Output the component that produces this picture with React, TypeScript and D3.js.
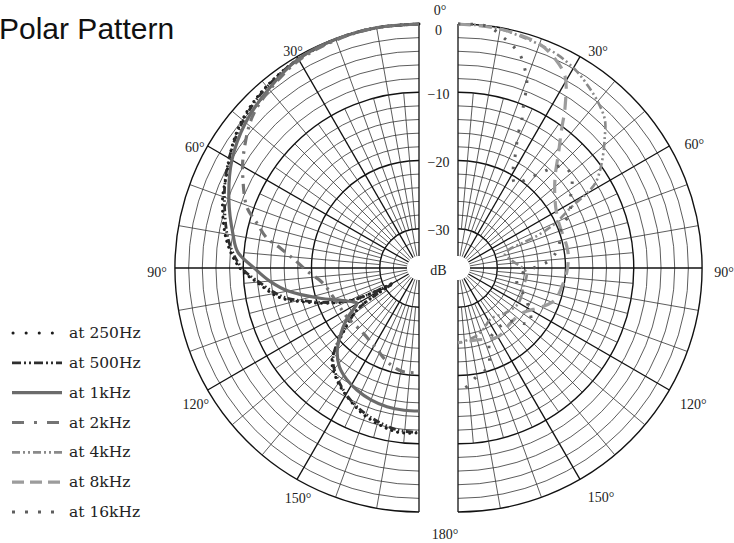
import React from 'react';
import * as d3 from 'd3';

// polar response, [angle in degrees from front, level in dB]
// left half of the plot
const at250Hz = [[0, 0], [10, 0], [20, -0.1], [30, -0.4], [40, -1.0], [48.7, -1.8], [56, -2.9], [64, -4.4], [71, -5.3], [82, -7.3], [90, -9.5], [95, -11.9], [102, -14.9], [107, -18.6], [111.5, -21.7], [116, -25], [118, -28], [120.5, -31.4], [122, -28], [124, -24.8], [130.5, -21.1], [136.6, -17.2], [143.8, -15.4], [152.4, -13.9], [160.8, -12.6], [172.4, -11.5], [180, -11.6]];
const at500Hz = [[0, 0], [10, 0], [20, -0.1], [30, -0.4], [40, -1.1], [48, -1.9], [56, -3.0], [64, -4.3], [71, -5.6], [82, -7.6], [90, -9.8], [95, -12.2], [102, -15.4], [107, -19], [111.5, -22], [116, -25.3], [118, -28], [120.5, -31], [122, -28], [124, -25], [130.5, -20.8], [136.6, -17.4], [143.8, -15.6], [152.4, -14.0], [160.8, -12.9], [172.4, -11.8], [180, -11.7]];
const at1kHz = [[0, 0], [10, 0], [20, -0.1], [30, -0.4], [40, -1.5], [50, -2.6], [60, -4.1], [70, -6.1], [80, -8.1], [85, -9.1], [90, -11.6], [95, -13.8], [100, -16.3], [107, -20.6], [112, -23.2], [117.3, -24.9], [119.5, -25.3], [125, -22.9], [131, -20.4], [136, -18.5], [141, -17.2], [147, -16.3], [153, -15.7], [160, -15.2], [167, -14.9], [174, -14.8], [180, -14.8]];
const at2kHz = [[0, 0], [10, 0], [20, -0.2], [30, -0.6], [40, -1.7], [47.9, -2.8], [57.8, -5.3], [62.7, -6.7], [70.5, -9.0], [74.5, -11.1], [78.8, -13.0], [81.8, -15.2], [86.3, -17.5], [92, -19.5], [98.9, -21.5], [113, -22.7], [124, -23], [139, -23.2], [153, -22.3], [161.7, -21.2], [171, -20.4], [180, -20.4]];
// right half of the plot
const at4kHz = [[0, 0], [8, -0.1], [15.4, -0.6], [24.3, -1.2], [30.6, -2.0], [35.7, -3.0], [40.4, -4.0], [44.8, -5.2], [48.2, -6.9], [53.9, -9.7], [58.3, -12.1], [60.1, -14.3], [61.7, -16.8], [65.3, -20.1], [67.7, -23], [68.8, -25.7], [70.3, -27.9], [74, -28.6], [82, -27.8], [94, -25.7], [106, -25.8], [120, -25.5], [134, -26.2], [147, -26.9], [158, -26], [166, -25.4], [180, -24.7]];
const at8kHz = [[0, 0], [10, -0.2], [19.7, -0.8], [25, -2.0], [29.2, -3.6], [33.6, -7.4], [36.9, -10.5], [41.2, -13.4], [46.7, -16.2], [55, -18.4], [64.4, -19.5], [78.9, -19.5], [84.1, -19.5], [92, -19.8], [100.2, -20.3], [108.3, -20.8], [114.8, -22.2], [125.4, -24.3], [136.8, -24.6], [149.6, -24.1], [166.7, -24.9], [180, -24.8]];
const at16kHz = [[0, 0], [7.2, -0.1], [10.7, -1.2], [13.5, -2.1], [16.2, -3.2], [18.7, -5.1], [20.4, -6.8], [22, -10.2], [23.3, -12.1], [24.1, -14.1], [27.1, -17.4], [29.4, -19.3], [33.9, -20.8], [38.9, -18.6], [46, -14.3], [51.2, -14.4], [58.7, -16.5], [63.9, -17.5], [68.3, -19.4], [78, -20.7], [85, -22.2], [100, -27], [116, -24.5], [127.4, -22.5], [137, -25], [155, -24.5], [163, -20.6], [169.4, -19.8], [175, -18.5], [180, -17.4]];

const legendLabels = ['at 250Hz', 'at 500Hz', 'at 1kHz', 'at 2kHz', 'at 4kHz', 'at 8kHz', 'at 16kHz'];
const dbTicks = [0, -10, -20, -30];
const angleTicks = [30, 60, 90, 120, 150];

const R = 244;
const cy = 268;
const leftX = 419, rightX = 458;
const rScale = d3.scaleLinear().domain([-34, 0]).range([12, R]);
const rad = (deg) => deg * Math.PI / 180;

// chart styles and legend sample styles
const styles = [
  { color: '#1c1c1c', width: 3, dash: '0.1 6', cap: 'round', legDash: '0.1 13', data: at250Hz, side: -1 },
  { color: '#2e2e2e', width: 2.8, dash: '7 2.5 1.5 2.5 1.5 2.5', cap: 'butt', legDash: '9 3 2 3 2 3', data: at500Hz, side: -1 },
  { color: '#6b6b6b', width: 3.2, dash: null, cap: 'butt', legDash: null, data: at1kHz, side: -1 },
  { color: '#747474', width: 3.2, dash: '10 6 2.5 6', cap: 'butt', legDash: '12 10 3 10', data: at2kHz, side: -1 },
  { color: '#8a8a8a', width: 2.6, dash: '8 3 2 3 2 3', cap: 'butt', legDash: '8 3 2 3 2 3', data: at4kHz, side: 1 },
  { color: '#9c9c9c', width: 3.2, dash: '13 8', cap: 'butt', legDash: '12 6', data: at8kHz, side: 1 },
  { color: '#5e5e5e', width: 3, dash: '2.5 10', cap: 'butt', legDash: '3 10', data: at16kHz, side: 1 },
];

// label offsets from the rim point
const leftOffsets = { 30: [-4, -5], 60: [-13, 1], 90: [-18, 4], 120: [-12, 14], 150: [1, 19] };
const rightOffsets = { 30: [18, -5], 60: [25, -2], 90: [22, 4], 120: [24, 14], 150: [21, 18] };

function halfArc(r, side) {
  const p = d3.path();
  p.moveTo(0, -r);
  p.arc(0, 0, r, -Math.PI / 2, Math.PI / 2, side < 0);
  return p.toString();
}

function Half({ side }) {
  const cx = side < 0 ? leftX : rightX;
  const rings = d3.range(-32, 1, 2);
  const spokes = d3.range(0, 181, 5);
  return (
    <g transform={`translate(${cx},${cy})`}>
      {rings.map(d => (
        <path key={d} d={halfArc(rScale(d), side)} fill="none"
          stroke={d % 10 === 0 ? '#111' : '#333'} strokeWidth={d % 10 === 0 ? 1.4 : 0.8} />
      ))}
      {spokes.map(a => {
        const main = a % 10 === 0;
        const r0 = main ? rScale(-34) : rScale(-30);
        const r1 = main ? R : rScale(-10);
        const s = Math.sin(rad(a)) * side, c = -Math.cos(rad(a));
        const bold = a % 30 === 0;
        return <line key={a} x1={r0 * s} y1={r0 * c} x2={r1 * s} y2={r1 * c}
          stroke={bold ? '#111' : '#333'} strokeWidth={bold ? 1.3 : 0.8} />;
      })}
      {angleTicks.map(a => {
        const off = side < 0 ? leftOffsets[a] : rightOffsets[a];
        const x = Math.sin(rad(a)) * side * R + off[0];
        const y = -Math.cos(rad(a)) * R + off[1];
        return <text key={a} x={x} y={y} textAnchor="middle" dominantBaseline="central"
          fontFamily="Liberation Serif, serif" fontSize={14} fill="#222">{a}°</text>;
      })}
    </g>
  );
}

export default function App() {
  const legendY = d3.scalePoint().domain(legendLabels).range([333, 512]);
  return (
    <svg width={734} height={543} style={{ position: 'absolute', left: 0, top: 0, background: '#fff' }}>
      <text x={-1} y={39} fontFamily="Liberation Sans, Arial, sans-serif" fontSize={30} fill="#111">Polar Pattern</text>
      <Half side={-1} />
      <Half side={1} />
      {dbTicks.map(d => (
        <text key={d} x={(leftX + rightX) / 2} y={cy - rScale(d) + (d === 0 ? 6 : 2)} textAnchor="middle"
          dominantBaseline="central" fontFamily="Liberation Serif, serif" fontSize={14} fill="#222">
          {d === 0 ? '0' : `−${-d}`}
        </text>
      ))}
      <text x={(leftX + rightX) / 2} y={cy + 2} textAnchor="middle" dominantBaseline="central"
        fontFamily="Liberation Serif, serif" fontSize={14} fill="#222">dB</text>
      <text x={440} y={10} textAnchor="middle" dominantBaseline="central"
        fontFamily="Liberation Serif, serif" fontSize={14} fill="#222">0°</text>
      <text x={445} y={534} textAnchor="middle" dominantBaseline="central"
        fontFamily="Liberation Serif, serif" fontSize={14} fill="#222">180°</text>
      {styles.map((s, i) => {
        const line = d3.lineRadial()
          .angle(d => s.side * rad(d[0]))
          .radius(d => rScale(d[1]))
          .curve(d3.curveCatmullRom.alpha(0.5));
        const cx = s.side < 0 ? leftX : rightX;
        return (
          <path key={i} transform={`translate(${cx},${cy})`} d={line(s.data)} fill="none"
            stroke={s.color} strokeWidth={s.width} strokeDasharray={s.dash || undefined}
            strokeLinecap={s.cap} strokeLinejoin="round" />
        );
      })}
      {legendLabels.map((lab, i) => {
        const s = styles[i];
        const y = legendY(lab);
        return (
          <g key={lab}>
            <line x1={s.cap === 'round' ? 13 : 12} x2={62} y1={y} y2={y} stroke={s.color}
              strokeWidth={s.width} strokeDasharray={s.legDash || undefined} strokeLinecap={s.cap} />
            <text x={69} y={y} dominantBaseline="central" fontFamily="DejaVu Serif, serif"
              fontSize={15.5} fill="#222">{lab}</text>
          </g>
        );
      })}
    </svg>
  );
}
